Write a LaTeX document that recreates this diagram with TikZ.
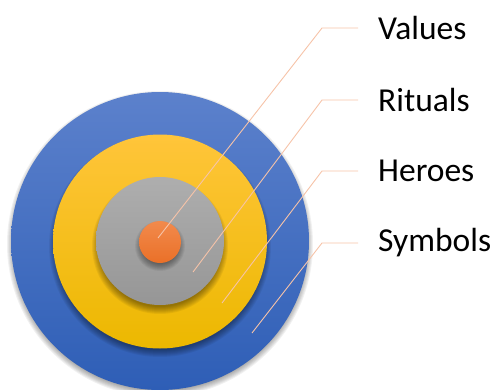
\documentclass[tikz,border=0pt]{standalone}
\usepackage{fontspec}
\setmainfont{Carlito}
\definecolor{leader}{HTML}{F6C3A8}
\begin{document}
\begin{tikzpicture}[x=1pt,y=-1pt,
  lbl/.style={anchor=west,font=\fontsize{33.5}{38}\selectfont,inner sep=0pt},
  leadline/.style={draw=leader,line width=0.9pt}]
\useasboundingbox (0,0) rectangle (496,389);
\clip (0,0) rectangle (496,389);
\newcommand{\softshadow}[3]{%
  \foreach \k in {0,...,7}{\fill[black,opacity=0.055] (#1,#2+4) circle ({#3+4-\k});}}
% outer blue
\softshadow{160}{240}{149}
\shade[top color={rgb,255:red,92;green,129;blue,204}, bottom color={rgb,255:red,46;green,94;blue,182}] (160,241) circle (149);
% yellow
\softshadow{160}{242}{107}
\shade[top color={rgb,255:red,255;green,197;blue,58}, bottom color={rgb,255:red,236;green,184;blue,0}] (160,241.5) circle (107);
% gray
\softshadow{160}{242}{64}
\shade[top color={rgb,255:red,174;green,174;blue,174}, bottom color={rgb,255:red,150;green,150;blue,150}] (160,241) circle (64);
% orange
\softshadow{160}{242}{21}
\shade[top color={rgb,255:red,242;green,138;blue,76}, bottom color={rgb,255:red,234;green,112;blue,40}] (160,242) circle (21);
% labels
\node[lbl] (values) at (378,28) {Values};
\node[lbl] (rituals) at (378,100) {Rituals};
\node[lbl] (heroes) at (378,171) {Heroes};
\node[lbl] (symbols) at (378,243) {Symbols};
% anchors
\coordinate (pv) at (158,238);
\coordinate (pr) at (193,272);
\coordinate (ph) at (222,303);
\coordinate (ps) at (252,333);
\coordinate (kv) at (322,28);
\coordinate (kr) at (322,100);
\coordinate (kh) at (322,171);
\coordinate (ks) at (322,243);
\draw[leadline] (pv) -- (kv) -- (358,28);
\draw[leadline] (pr) -- (kr) -- (358,100);
\draw[leadline] (ph) -- (kh) -- (358,171);
\draw[leadline] (ps) -- (ks) -- (358,243);
\end{tikzpicture}
\end{document}
